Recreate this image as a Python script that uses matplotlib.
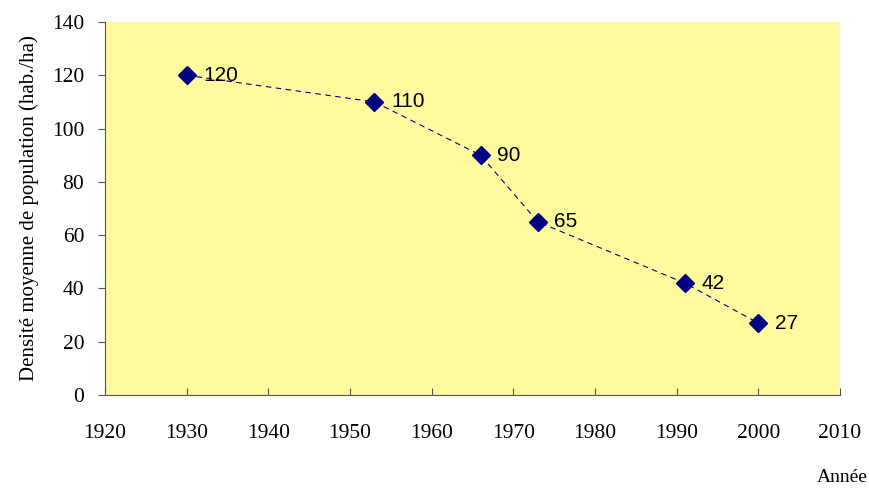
import matplotlib.pyplot as plt

# données
annees = [1930, 1953, 1966, 1973, 1991, 2000]
densite = [120, 110, 90, 65, 42, 27]
x_ticks = list(range(1920, 2011, 10))
y_ticks = list(range(0, 141, 20))

fig = plt.figure(figsize=(8.69, 4.88), dpi=100)
ax = fig.add_axes([0.1208, 0.1906, 0.8458, 0.7643])
ax.set_facecolor('#FFFA9E')

ax.plot(annees, densite, color='#000080', linestyle=(0, (5, 4)), linewidth=0.8,
        marker='D', markersize=9, markerfacecolor='#000080', markeredgecolor='#000080')

for xa, ya in zip(annees, densite):
    ax.annotate(str(ya), (xa, ya), xytext=(12, 0), textcoords='offset points',
                ha='left', va='center', fontsize=15, family='Liberation Sans')

ax.set_xlim(1920, 2010)
ax.set_ylim(0, 140)
ax.set_xticks(x_ticks)
ax.set_yticks(y_ticks)

serif = 'Liberation Serif'
for lab in ax.get_xticklabels() + ax.get_yticklabels():
    lab.set_family(serif)
    lab.set_fontsize(15.5)

ax.tick_params(axis='x', direction='in', length=5, pad=21, color='#555555')
ax.tick_params(axis='y', direction='out', length=5, pad=10, color='#555555')
for s in ['top', 'right']:
    ax.spines[s].set_visible(False)
for s in ['left', 'bottom']:
    ax.spines[s].set_color('#555555')

ax.set_ylabel('Densité moyenne de population (hab./ha)', family=serif, fontsize=15, labelpad=9)
fig.text(0.998, 0.005, 'Année', family=serif, fontsize=14, ha='right', va='bottom')

fig.savefig('out.png', dpi=100)
